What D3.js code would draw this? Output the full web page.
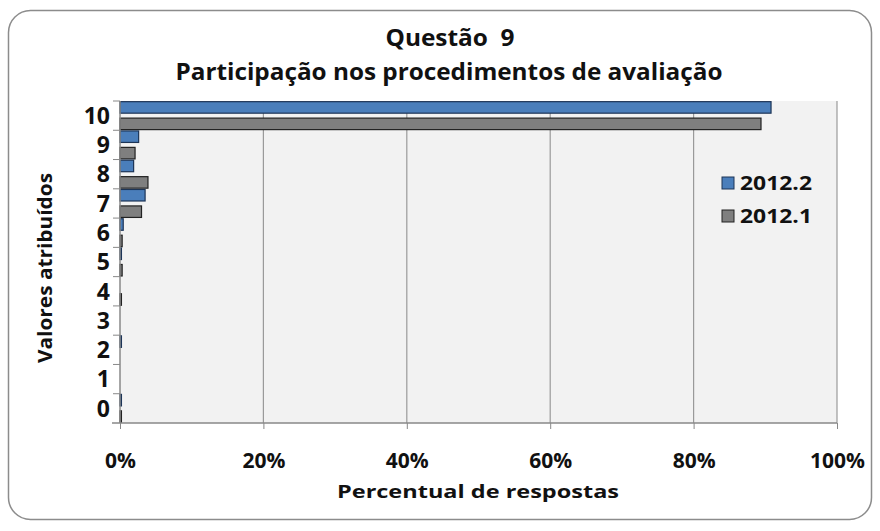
<!DOCTYPE html>
<html>
<head>
<meta charset="utf-8">
<script src="https://cdn.jsdelivr.net/npm/d3@7"></script>
<style>
  body { margin: 0; background: #fff; }
  text { font-family: "Open Sans", "Liberation Sans", sans-serif; font-weight: bold; fill: #111; white-space: pre; }
</style>
</head>
<body>
<svg id="canvas" width="880" height="531"></svg>
<script>
// values (percent of answers)
let categories = ['10', '9', '8', '7', '6', '5', '4', '3', '2', '1', '0']
let seriesNames = ['2012.2', '2012.1']
let values2012_2 = [90.8, 2.6, 1.9, 3.5, 0.45, 0.2, 0, 0, 0.2, 0, 0.2]
let values2012_1 = [89.4, 2.1, 3.9, 3.0, 0.3, 0.3, 0.2, 0, 0, 0, 0.2]
let xTicks = [0, 20, 40, 60, 80, 100]
let colors = { '2012.2': '#4a7ebb', '2012.1': '#7f7f7f' }
let strokes = { '2012.2': '#1d3557', '2012.1': '#222' }

let svg = d3.select('#canvas')

let margin = { left: 120, right: 880 - 837, top: 101, bottom: 531 - 423 }
let width = 880 - margin.left - margin.right
let height = 531 - margin.top - margin.bottom

// outer rounded frame
svg.append('rect')
   .attr('x', 8.5).attr('y', 10.5)
   .attr('width', 863).attr('height', 509)
   .attr('rx', 22).attr('ry', 22)
   .attr('fill', '#fff')
   .attr('stroke', '#8c8c8c')
   .attr('stroke-width', 1.5)

let x = d3.scaleLinear().domain([0, 100]).range([margin.left, margin.left + width])
let y = d3.scaleBand().domain(categories).range([margin.top, margin.top + height])
let ySub = d3.scaleBand().domain(seriesNames).range([0, y.bandwidth()]).paddingInner(0.3).paddingOuter(0.04)

// plot background
svg.append('rect')
   .attr('x', x(0)).attr('y', margin.top)
   .attr('width', width).attr('height', height)
   .attr('fill', '#f2f2f2')

// gridlines
svg.selectAll('.grid')
   .data(xTicks.slice(1))
   .enter()
   .append('line')
   .attr('x1', d => x(d)).attr('x2', d => x(d))
   .attr('y1', margin.top).attr('y2', margin.top + height)
   .attr('stroke', '#9a9a9a')
   .attr('stroke-width', 1.2)

// bars
let rows = categories.map((c, i) => ({ cat: c, vals: [
    { name: '2012.2', v: values2012_2[i] },
    { name: '2012.1', v: values2012_1[i] }
] }))

let groups = svg.selectAll('.grp')
   .data(rows)
   .enter()
   .append('g')
   .attr('transform', d => 'translate(0,' + y(d.cat) + ')')

groups.selectAll('rect')
   .data(d => d.vals.filter(s => s.v > 0))
   .enter()
   .append('rect')
   .attr('x', x(0))
   .attr('y', s => ySub(s.name))
   .attr('width', s => x(s.v) - x(0))
   .attr('height', ySub.bandwidth())
   .attr('fill', s => colors[s.name])
   .attr('stroke', s => strokes[s.name])
   .attr('stroke-width', 1.2)

// x axis
let xAxis = d3.axisBottom(x).tickValues(xTicks).tickFormat(d => d + '%').tickSize(6).tickPadding(24)
let gx = svg.append('g')
   .attr('transform', 'translate(0,' + (margin.top + height) + ')')
   .call(xAxis)
gx.select('.domain').attr('stroke', '#888').attr('stroke-width', 1.5).attr('d', 'M' + (x(0) - 8) + ',0H' + x(100))
gx.selectAll('.tick line').attr('stroke', '#888')
gx.selectAll('text').attr('font-family', null).style('font-size', '21px').attr('fill', '#111')

// y axis: labels centered in bands, tick marks at band edges
let gy = svg.append('g')
gy.append('line')
   .attr('x1', x(0)).attr('x2', x(0))
   .attr('y1', margin.top).attr('y2', margin.top + height)
   .attr('stroke', '#888').attr('stroke-width', 1.5)
gy.selectAll('.ytick')
   .data(categories)
   .enter()
   .append('line')
   .attr('x1', x(0) - 7).attr('x2', x(0))
   .attr('y1', d => y(d)).attr('y2', d => y(d))
   .attr('stroke', '#888')
gy.selectAll('.ylabel')
   .data(categories)
   .enter()
   .append('text')
   .attr('x', x(0) - 10)
   .attr('y', d => y(d) + y.bandwidth() / 2)
   .attr('dy', '0.36em')
   .attr('text-anchor', 'end')
   .style('font-size', '23px')
   .text(d => d)

// titles
svg.append('text')
   .attr('x', 450).attr('y', 46)
   .attr('text-anchor', 'middle')
   .style('font-size', '24px')
   .attr('textLength', 129)
   .attr('lengthAdjust', 'spacingAndGlyphs')
   .text('Questão  9')
svg.append('text')
   .attr('x', 449).attr('y', 80)
   .attr('text-anchor', 'middle')
   .style('font-size', '24px')
   .attr('textLength', 547)
   .attr('lengthAdjust', 'spacingAndGlyphs')
   .text('Participação nos procedimentos de avaliação')

svg.append('text')
   .attr('x', 478).attr('y', 498)
   .attr('text-anchor', 'middle')
   .style('font-size', '18px')
   .attr('textLength', 282)
   .attr('lengthAdjust', 'spacingAndGlyphs')
   .text('Percentual de respostas')

svg.append('text')
   .attr('transform', 'translate(52,268) rotate(-90)')
   .attr('text-anchor', 'middle')
   .style('font-size', '20px')
   .attr('textLength', 190)
   .attr('lengthAdjust', 'spacingAndGlyphs')
   .text('Valores atribuídos')

// legend
let legend = svg.selectAll('.legend')
   .data(seriesNames)
   .enter()
   .append('g')
   .attr('transform', (d, i) => 'translate(722,' + (177 + i * 33) + ')')
legend.append('rect')
   .attr('width', 12).attr('height', 12)
   .attr('fill', d => colors[d])
   .attr('stroke', d => strokes[d])
legend.append('text')
   .attr('x', 18).attr('y', 6)
   .attr('dy', '0.36em')
   .style('font-size', '20px')
   .attr('textLength', 72)
   .attr('lengthAdjust', 'spacingAndGlyphs')
   .text(d => d)
</script>
</body>
</html>
